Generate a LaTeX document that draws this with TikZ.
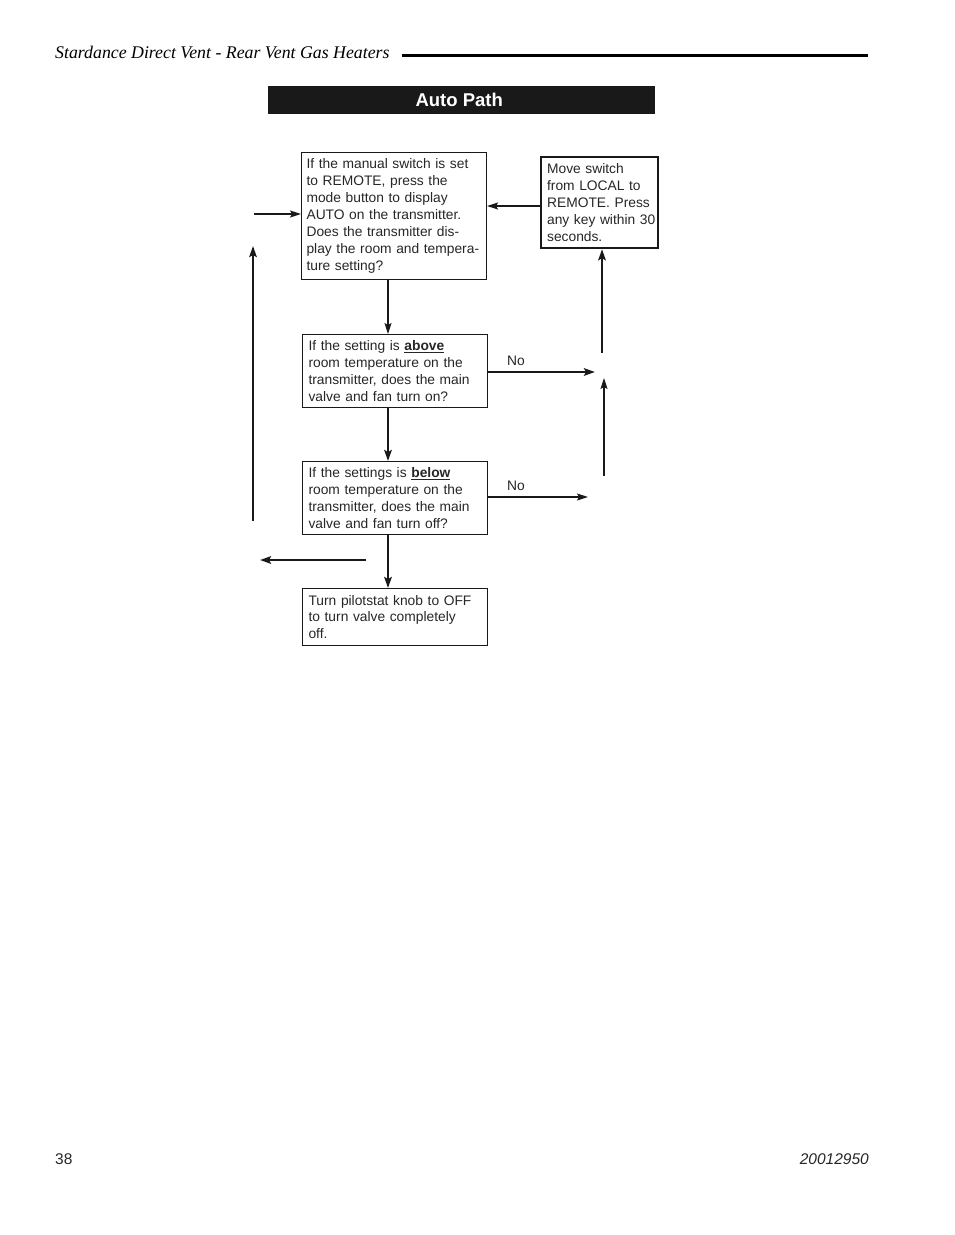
\documentclass[tikz,border=0pt]{standalone}
\usepackage{fontspec}
\setmainfont{Liberation Sans}
\newfontfamily\hdrfont{Liberation Serif}
\usetikzlibrary{arrows.meta}
\begin{document}
\begin{tikzpicture}[x=1pt,y=-1pt,
  boxst/.style={draw=black!90, line width=1.1pt, anchor=north west, inner xsep=5pt, inner ysep=0pt, align=left, font=\fontsize{13.8}{16.9}\selectfont, text=black!85},
  thinarr/.style={draw=black!90, line width=1.2pt, -{Stealth[length=11pt,width=7pt,inset=2pt]}},
  thickarr/.style={draw=black!90, line width=2.2pt, -{Stealth[length=11pt,width=7.5pt,inset=2pt]}},
  lbl/.style={font=\fontsize{13.8}{15}\selectfont, text=black!85, inner sep=0pt}
]
\useasboundingbox (0,0) rectangle (954,1235);
% header
\node[anchor=base west, inner sep=0pt, font=\hdrfont\itshape\fontsize{17.8}{20}\selectfont] (hdr) at (55,58) {Stardance Direct Vent - Rear Vent Gas Heaters};
\draw[line width=3pt] (402,55) -- (868,55);
% title bar
\node[fill=black!90, minimum width=387pt, minimum height=28pt, anchor=north west, inner sep=0pt, text=white, font=\bfseries\fontsize{18.5}{20}\selectfont] (title) at (268,86) {\hspace*{-5pt}Auto Path};
% boxes
\node[boxst, text width=175pt, minimum height=127pt] (b1) at (301,152) {If the manual switch is set\\to REMOTE, press the\\mode button to display\\AUTO on the transmitter.\\Does the transmitter dis-\\play the room and tempera-\\ture setting?};
\node[boxst, line width=2.2pt, inner xsep=6pt, text width=105pt, minimum height=91pt] (b2) at (540,156) {Move~switch\\from~LOCAL~to\\REMOTE.~Press\\\mbox{any~key~within~30}\\seconds.};
\node[boxst, inner xsep=6pt, text width=173pt, minimum height=73pt] (b3) at (302,334) {If the setting is \underline{\textbf{above}}\\room temperature on the\\transmitter, does the main\\valve and fan turn on?};
\node[boxst, inner xsep=6pt, text width=173pt, minimum height=73pt] (b4) at (302,461) {If the settings is \underline{\textbf{below}}\\room temperature on the\\transmitter, does the main\\valve and fan turn off?};
\node[boxst, inner xsep=6pt, text width=173pt, minimum height=57pt] (b5) at (302,588) {Turn pilotstat knob to OFF\\to turn valve completely\\off.};
% coordinates for free ends
\coordinate (inL) at (254,214);
\coordinate (upB) at (253,521);
\coordinate (upT) at (253,246);
\coordinate (no1) at (595,372);
\coordinate (r1b) at (602,353);
\coordinate (r2b) at (604,476);
\coordinate (r2t) at (604,378);
\coordinate (no2) at (588,497);
\coordinate (lfs) at (366,560);
\coordinate (lfe) at (260,560);
% connectors
\draw[thinarr] (inL) -- (inL -| b1.west);
\draw[thickarr] (upB) -- (upT);
\draw[thinarr] (b2.west |- 0,206) -- (b1.east |- 0,206);
\draw[thinarr] (b1.south -| 388,0) -- (b3.north -| 388,0);
\draw[thickarr] (b3.east |- no1) -- (no1);
\node[lbl, anchor=base west] (n1) at (507,365) {No};
\draw[thickarr] (r1b) -- (r1b |- b2.south);
\draw[thinarr] (r2b) -- (r2t);
\draw[thickarr] (b3.south -| 388,0) -- (b4.north -| 388,0);
\draw[thinarr] (b4.east |- no2) -- (no2);
\node[lbl, anchor=base west] (n2) at (507,490) {No};
\draw[thickarr] (b4.south -| 388,0) -- (b5.north -| 388,0);
\draw[thickarr] (lfs) -- (lfe);
% footer
\node[anchor=base west, inner sep=0pt, font=\fontsize{15.5}{17}\selectfont, text=black!85] (pg) at (55,1164) {38};
\node[anchor=base east, inner sep=0pt, font=\itshape\fontsize{15.5}{17}\selectfont, text=black!85] (doc) at (869,1164) {20012950};
\end{tikzpicture}
\end{document}
